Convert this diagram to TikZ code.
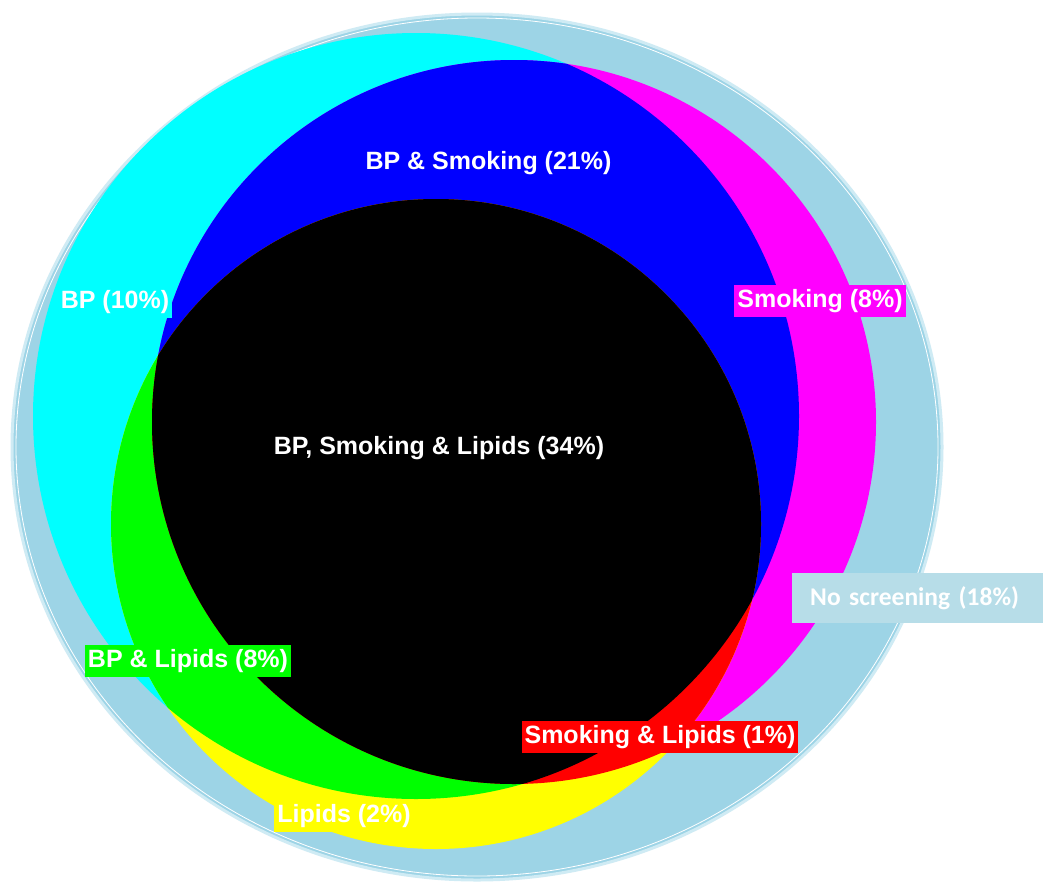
\documentclass[tikz,border=0pt]{standalone}
\usepackage{fontspec}
\setmainfont{Liberation Sans}
\newfontfamily\calfont{Carlito}
\definecolor{ringblue}{HTML}{9DD4E6}
\definecolor{ringedge}{HTML}{CFEBF4}
\definecolor{noscr}{HTML}{B7DDE8}
\definecolor{cC}{HTML}{00FFFF}
\definecolor{cM}{HTML}{FF00FF}
\definecolor{cY}{HTML}{FFFF00}
\definecolor{cB}{HTML}{0000FF}
\definecolor{cG}{HTML}{00FF00}
\definecolor{cR}{HTML}{FF0000}
\begin{document}
\begin{tikzpicture}[x=1pt,y=-1pt,
  lbl/.style={font=\bfseries\fontsize{25}{28}\selectfont, text=white, inner xsep=3pt, inner ysep=4pt},
  nslbl/.style={anchor=north west, fill=noscr, text=white,
    font=\calfont\bfseries\fontsize{25.5}{28}\selectfont,
    minimum height=50pt, text width=215pt, inner xsep=18pt, inner ysep=0pt, align=left}
]
\useasboundingbox (0,0) rectangle (1043,881);
\fill[white] (0,0) rectangle (1043,881);
% outer ring (no screening)
\fill[ringblue] (477,447) ellipse[x radius=465, y radius=433];
\draw[ringedge, line width=3pt] (477,447) ellipse[x radius=465, y radius=433];
\draw[white, line width=0.8pt] (477,447) ellipse[x radius=461, y radius=429];
% single sets
\fill[cC] (416,416) circle[radius=383];
\fill[cM] (514,422) circle[radius=362];
\fill[cY] (436,524) circle[radius=325];
% pairwise intersections
\begin{scope}
  \clip (416,416) circle[radius=383];
  \fill[cB] (514,422) circle[radius=362];
  \fill[cG] (436,524) circle[radius=325];
\end{scope}
\begin{scope}
  \clip (514,422) circle[radius=362];
  \fill[cR] (436,524) circle[radius=325];
\end{scope}
% triple intersection
\begin{scope}
  \clip (416,416) circle[radius=383];
  \clip (514,422) circle[radius=362];
  \fill[black] (436,524) circle[radius=325];
\end{scope}
% labels
\node[lbl, fill=cB] (bps) at (488.5,163) {BP \& Smoking (21\%)};
\node[lbl, fill=black] (all) at (439,448) {BP, Smoking \& Lipids (34\%)};
\node[lbl, fill=cC] (bp) at (115,302) {BP (10\%)};
\node[lbl, fill=cM] (sm) at (820,301) {Smoking (8\%)};
\node[lbl, fill=cG] (bpl) at (188,661) {BP \& Lipids (8\%)};
\node[lbl, fill=cY] (lip) at (344,816) {Lipids (2\%)};
\node[lbl, fill=cR] (sml) at (660,737) {Smoking \& Lipids (1\%)};
\node[nslbl] (ns) at (792,573) {No screening (18\%)};
\end{tikzpicture}
\end{document}
